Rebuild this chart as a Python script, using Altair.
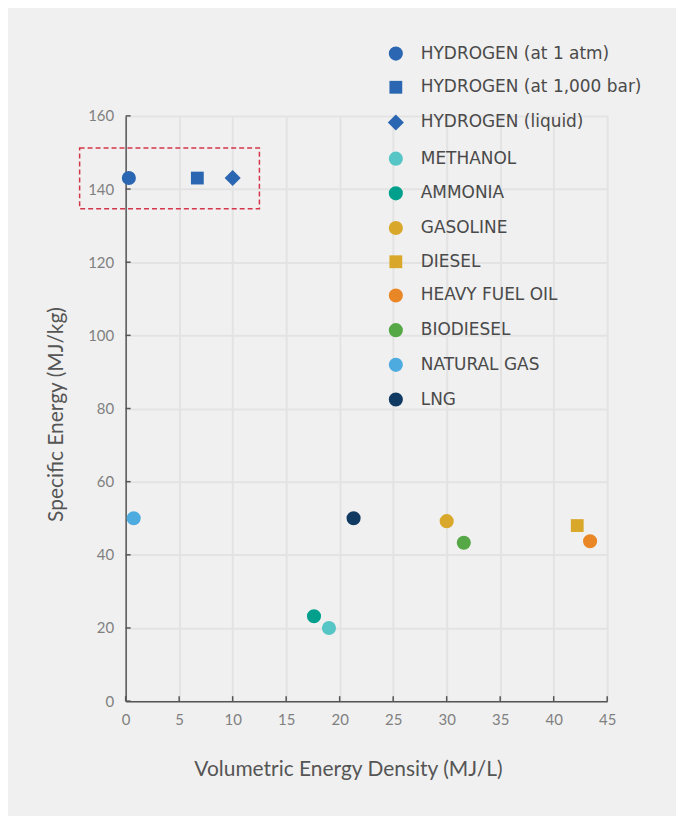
import altair as alt
import pandas as pd

fuels = ["HYDROGEN (at 1 atm)", "HYDROGEN (at 1,000 bar)", "HYDROGEN (liquid)",
         "METHANOL", "AMMONIA", "GASOLINE", "DIESEL", "HEAVY FUEL OIL",
         "BIODIESEL", "NATURAL GAS", "LNG"]
vol_density = [0.3, 6.7, 10.0, 19.0, 17.6, 30.0, 42.2, 43.4, 31.6, 0.75, 21.3]
spec_energy = [143, 143, 143, 20, 23.2, 49.2, 48.0, 43.7, 43.3, 50, 50]
colors = ["#2a66b1", "#2a66b1", "#2a66b1", "#56c5c5", "#00a08c", "#d9a82a",
          "#d9a82a", "#e98726", "#55a845", "#4dabe0", "#103a62"]
shapes = ["circle", "square", "diamond", "circle", "circle", "circle",
          "square", "circle", "circle", "circle", "circle"]
sizes = [200, 165, 260, 200, 200, 200, 165, 200, 200, 200, 200]

x_ticks = [0, 5, 10, 15, 20, 25, 30, 35, 40, 45]
y_ticks = [0, 20, 40, 60, 80, 100, 120, 140, 160]

# highlight box around hydrogen (data units)
box_x = [-4.3]
box_x2 = [12.5]
box_y = [134.6]
box_y2 = [151.2]

W, H = 483, 587
FONT = "Lato"
LFONT = "DejaVu Sans"

df = pd.DataFrame({"fuel": fuels, "vol": vol_density, "spec": spec_energy})
box = pd.DataFrame({"x": box_x, "x2": box_x2, "y": box_y, "y2": box_y2})
yt = pd.DataFrame({"v": y_ticks})
xt = pd.DataFrame({"v": x_ticks})

xscale = alt.Scale(domain=[0, 45], nice=False, zero=False)
yscale = alt.Scale(domain=[0, 160], nice=False, zero=False)

points = alt.Chart(df).mark_point(filled=True, opacity=1).encode(
    x=alt.X("vol:Q", scale=xscale,
            axis=alt.Axis(values=x_ticks, title="Volumetric Energy Density (MJ/L)",
                          tickSize=0, labelPadding=11, labelFlush=False,
                          titleX=223, titleY=69, titleBaseline="middle",
                          titleAlign="center")),
    y=alt.Y("spec:Q", scale=yscale,
            axis=alt.Axis(values=y_ticks, title="Specific Energy (MJ/kg)",
                          tickSize=0, labelPadding=12, labelFlush=False,
                          titleX=-69, titleY=299, titleBaseline="middle",
                          titleAlign="center", titleAngle=270)),
    color=alt.Color("fuel:N", scale=alt.Scale(domain=fuels, range=colors),
                    sort=fuels,
                    legend=alt.Legend(title=None, orient="none", legendX=262,
                                      legendY=-71,
                                      labelOffset=16, rowPadding=13.8,
                                      labelFontSize=17, labelColor="#4a4a4a",
                                      labelFont=LFONT, labelLimit=0,
                                      symbolOpacity=1)),
    shape=alt.Shape("fuel:N", scale=alt.Scale(domain=fuels, range=shapes),
                    sort=fuels),
    size=alt.Size("fuel:N",
                  scale=alt.Scale(type="ordinal", domain=fuels, range=sizes),
                  sort=fuels),
)

rect = alt.Chart(box).mark_rect(fill="transparent", stroke="#d4364a",
                                strokeDash=[5, 3], strokeWidth=1.5).encode(
    x="x:Q", x2="x2:Q", y="y:Q", y2="y2:Q")

ytick = alt.Chart(yt).mark_rule(color="#555555", strokeWidth=1.5).encode(
    y="v:Q", x=alt.value(0), x2=alt.value(5))
xtick = alt.Chart(xt).mark_rule(color="#555555", strokeWidth=1.5).encode(
    x="v:Q", y=alt.value(H), y2=alt.value(H - 5))

chart = alt.layer(rect, ytick, xtick, points).properties(
    width=W, height=H,
    autosize=alt.AutoSizeParams(type="none"),
    padding={"left": 118, "top": 107, "right": 69, "bottom": 114},
    background="#f0f0f0",
).configure_view(stroke=None).configure_axis(
    gridColor="#e3e3e3", gridWidth=2, domainColor="#555555", domainWidth=1.5,
    labelFont=FONT, labelFontSize=15, labelColor="#808080",
    titleFont=FONT, titleFontSize=21, titleFontWeight="normal", titleColor="#555555",
)

chart.save("out.html", embed_options={"renderer": "svg", "actions": False})
